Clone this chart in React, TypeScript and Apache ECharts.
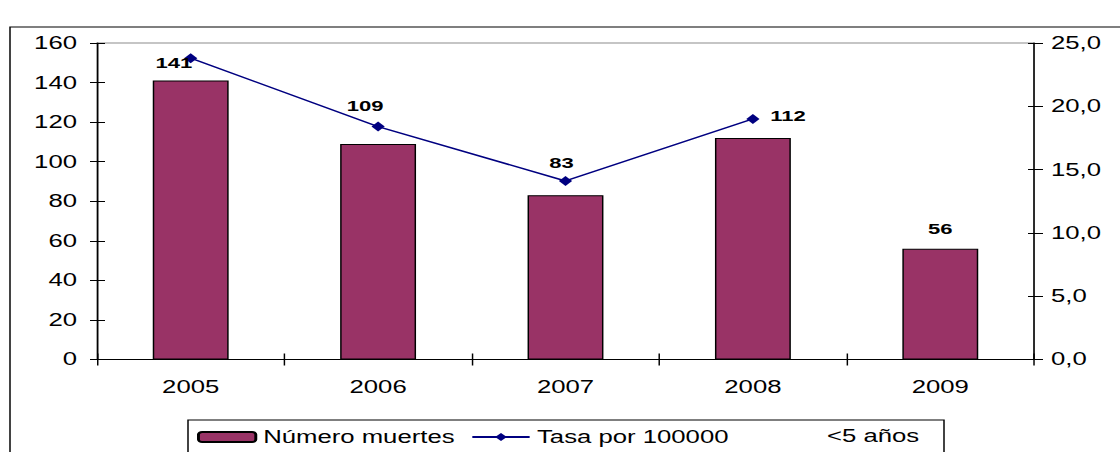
import React, { useEffect, useRef } from "react";
import * as echarts from "echarts";

const years = ["2005", "2006", "2007", "2008", "2009"];
const muertes = [141, 109, 83, 112, 56];
const tasa: (number | null)[] = [23.8, 18.4, 14.1, 19.0, null];
const leftTicks = { min: 0, max: 160, interval: 20 };
const rightTicks = { min: 0, max: 25, interval: 5 };
const seriesNames = ["Número muertes", "Tasa por 100000"];
const extraLegendText = "<5 años";

// The reference is stretched horizontally; draw at a narrower width and stretch.
const W = 762;
const H = 452;
const S = 1120 / W;
const sx = (v: number) => v / S;
const FONT = '"Liberation Sans", Arial, sans-serif';

export default function App() {
  const ref = useRef<HTMLDivElement>(null);
  useEffect(() => {
    if (!ref.current) return;
    const chart = echarts.init(ref.current, undefined, { renderer: "svg" });

    const placements: Array<{ position: string; offset: number[] }> = [
      { position: "left", offset: [10.6, 5] },
      { position: "top", offset: [-8.8, -3] },
      { position: "top", offset: [-2.8, -1] },
      { position: "right", offset: [2.3, -3.6] },
      { position: "top", offset: [0, 0] },
    ];

    const labelStyle = {
      fontFamily: FONT,
      fontSize: 15,
      fontWeight: "bold" as const,
      color: "#000",
    };

    const yBase = {
      type: "value" as const,
      splitLine: { show: false },
    };

    chart.setOption({
      animation: false,
      backgroundColor: "#fff",
      textStyle: { fontFamily: FONT },
      grid: {
        left: sx(97),
        right: sx(1120 - 1034),
        top: 43,
        bottom: H - 359.5,
        show: true,
        borderColor: "#8c8c8c",
        borderWidth: 1,
        backgroundColor: "transparent",
      },
      legend: {
        data: seriesNames,
        left: sx(197),
        top: 428,
        padding: 0,
        itemWidth: 39,
        itemHeight: 10,
        itemGap: 11,
        textStyle: { fontFamily: FONT, fontSize: 17.5, color: "#000" },
        selectedMode: false,
      },
      xAxis: [
        {
          type: "category",
          data: years,
          position: "bottom",
          axisLine: { lineStyle: { color: "#000", width: 1 } },
          axisTick: { show: true, length: 6, lineStyle: { color: "#000" } },
          axisLabel: { fontFamily: FONT, fontSize: 17.5, color: "#000", margin: 18.5 },
        },
        {
          type: "category",
          data: years,
          position: "bottom",
          axisLine: { show: false },
          axisTick: { show: true, inside: true, length: 6, lineStyle: { color: "#000" } },
          axisLabel: { show: false },
        },
      ],
      yAxis: [
        {
          ...yBase,
          ...leftTicks,
          position: "left",
          axisLine: { show: true, lineStyle: { color: "#000", width: 1 } },
          axisTick: { show: true, length: sx(7), lineStyle: { color: "#000" } },
          axisLabel: { fontFamily: FONT, fontSize: 17.5, color: "#000", margin: sx(20) },
        },
        {
          ...yBase,
          ...rightTicks,
          position: "right",
          axisLine: { show: true, lineStyle: { color: "#000", width: 1 } },
          axisTick: { show: true, length: sx(9), lineStyle: { color: "#000" } },
          axisLabel: {
            fontFamily: FONT,
            fontSize: 17.5,
            color: "#000",
            margin: sx(17),
            formatter: (v: number) => v.toFixed(1).replace(".", ","),
          },
        },
        {
          ...yBase,
          ...leftTicks,
          position: "left",
          axisLine: { show: false },
          axisTick: { show: true, inside: true, length: sx(8), lineStyle: { color: "#000" } },
          axisLabel: { show: false },
        },
        {
          ...yBase,
          ...rightTicks,
          position: "right",
          axisLine: { show: false },
          axisTick: { show: true, inside: true, length: sx(6), lineStyle: { color: "#000" } },
          axisLabel: { show: false },
        },
      ],
      series: [
        {
          name: seriesNames[0],
          type: "bar",
          xAxisIndex: 0,
          yAxisIndex: 0,
          barWidth: "40.5%",
          itemStyle: { color: "#993366", borderColor: "#000", borderWidth: 1 },
          data: muertes.map((v, i) => ({
            value: v,
            label: {
              show: tasa[i] == null,
              position: "top",
              distance: 12,
              ...labelStyle,
            },
          })),
          z: 2,
        },
        {
          name: seriesNames[1],
          type: "line",
          xAxisIndex: 0,
          yAxisIndex: 1,
          symbol: "diamond",
          symbolSize: [9, 10],
          lineStyle: { color: "#000080", width: 1.4 },
          itemStyle: { color: "#000080" },
          data: tasa.map((v, i) => ({
            value: v,
            label: {
              show: v != null,
              position: placements[i].position,
              offset: placements[i].offset,
              formatter: () => String(muertes[i]),
              ...labelStyle,
            },
          })),
          z: 3,
        },
      ],
      graphic: [
        {
          type: "rect",
          shape: { x: sx(10), y: 27, width: 900, height: 500 },
          style: { fill: "none", stroke: "#000", lineWidth: 1 },
          z: 0,
          silent: true,
        },
        {
          type: "rect",
          shape: { x: sx(188), y: 420, width: sx(944 - 188), height: 60 },
          style: { fill: "#fff", stroke: "#000", lineWidth: 1 },
          z: 0,
          silent: true,
        },
        {
          type: "text",
          x: sx(827),
          y: 436.5,
          style: {
            text: extraLegendText,
            fontFamily: FONT,
            fontSize: 17.5,
            fill: "#000",
            verticalAlign: "middle",
          },
          z: 10,
        },
      ],
    });
    return () => chart.dispose();
  }, []);

  return (
    <div
      ref={ref}
      style={{
        position: "absolute",
        left: 0,
        top: 0,
        width: W + "px",
        height: H + "px",
        transform: `scaleX(${S})`,
        transformOrigin: "0 0",
      }}
    />
  );
}
